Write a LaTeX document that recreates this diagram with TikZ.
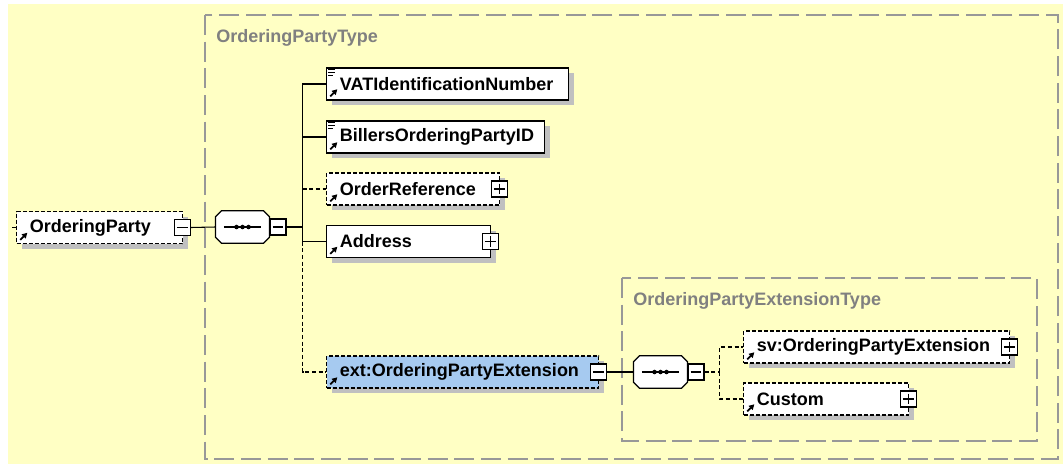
\documentclass[tikz,border=0pt]{standalone}
\usepackage{fontspec}
\setmainfont{Liberation Sans}
\usetikzlibrary{positioning}
\usetikzlibrary{shadows}
\usetikzlibrary{arrows.meta}
\usepackage{xcolor}

\definecolor{bgyellow}{RGB}{255,255,196}
\definecolor{shadowgray}{RGB}{192,192,192}
\definecolor{framegray}{RGB}{152,152,152}
\definecolor{extblue}{RGB}{166,202,240}
\definecolor{typegray}{RGB}{128,128,128}

\tikzset{
  elem/.style={draw=black, line width=0.9pt, fill=white, anchor=west,
    minimum height=24pt, inner xsep=0pt, inner ysep=0pt, align=left,
    font=\fontsize{13.5}{16}\selectfont\bfseries,
    drop shadow={shadow xshift=4pt, shadow yshift=-4pt, fill=shadowgray, opacity=1}},
  optelem/.style={elem, dash pattern=on 3pt off 1.5pt},
  pmbox/.style={draw=black, line width=0.8pt, fill=white, minimum size=12pt, inner sep=0pt},
  plusbox/.style={pmbox, path picture={
    \draw[line width=0.8pt] ([xshift=2pt]path picture bounding box.west) -- ([xshift=-2pt]path picture bounding box.east)
      ([yshift=-2pt]path picture bounding box.north) -- ([yshift=2pt]path picture bounding box.south);}},
  minusbox/.style={pmbox, path picture={
    \draw[line width=0.8pt] ([xshift=2pt]path picture bounding box.west) -- ([xshift=-2pt]path picture bounding box.east);}},
  seqbox/.style={rectangle, minimum width=40pt, minimum height=24pt, inner sep=0pt},
  octa/.style={draw=black, line width=0.9pt, fill=white},
  frame/.style={draw=framegray, line width=1.3pt, dash pattern=on 15pt off 5pt},
  typelbl/.style={anchor=west, inner sep=0pt, text=typegray, font=\fontsize{13.5}{16}\selectfont\bfseries},
  conn/.style={line width=0.8pt},
  optconn/.style={conn, dash pattern=on 3pt off 2pt},
  refarrow/.style={line width=1.4pt, -{Triangle[length=4pt,width=4.2pt]}},
}

\begin{document}
\begin{tikzpicture}[x=0.75pt, y=-0.75pt]

\useasboundingbox (0,0) rectangle (1063,464);
\fill[bgyellow] (8,4) rectangle (1063,464);

% type frames
\draw[frame] (205,15) rectangle (1058,459);
\draw[frame] (622,278) rectangle (1037,441);
\node[typelbl] (optype) at (216,38) {OrderingPartyType};
\node[typelbl] (opexttype) at (633,301) {OrderingPartyExtensionType};

% root element
\node[optelem, text width=124.5pt] (op) at (16,227.5) {\hspace*{10pt}OrderingParty};
\node[minusbox] (opm) at ([xshift=-0.75pt]op.east) {};
\draw[optconn] (op.west) -- ++(-6,0);

% sequences
\node[seqbox] (seq1) at (242.5,227) {};
\node[seqbox] (seq2) at (660.5,372) {};
\foreach \s in {seq1,seq2}{
  \begin{scope}[shift={(4pt,-4pt)}]
    \fill[shadowgray] ([xshift=4.5pt]\s.north west) -- ([xshift=-4.5pt]\s.north east) -- ([yshift=-4.5pt]\s.north east)
      -- ([yshift=4.5pt]\s.south east) -- ([xshift=-4.5pt]\s.south east) -- ([xshift=4.5pt]\s.south west)
      -- ([yshift=4.5pt]\s.south west) -- ([yshift=-4.5pt]\s.north west) -- cycle;
  \end{scope}
  \draw[octa] ([xshift=4.5pt]\s.north west) -- ([xshift=-4.5pt]\s.north east) -- ([yshift=-4.5pt]\s.north east)
    -- ([yshift=4.5pt]\s.south east) -- ([xshift=-4.5pt]\s.south east) -- ([xshift=4.5pt]\s.south west)
    -- ([yshift=4.5pt]\s.south west) -- ([yshift=-4.5pt]\s.north west) -- cycle;
  \draw[conn] ([xshift=-14pt]\s.center) -- ([xshift=14pt]\s.center);
  \foreach \d in {-4.5,0,4.5}
    \fill ([xshift=\d pt]\s.center) circle [radius=1.7pt];
}
\node[minusbox, anchor=west] (seq1m) at (seq1.east) {};
\node[minusbox, anchor=west] (seq2m) at (seq2.east) {};

% children
\node[elem, text width=181.5pt] (vat) at (326,84) {\hspace*{10pt}VATIdentificationNumber};
\node[elem, text width=163.5pt] (billers) at (326,137) {\hspace*{10pt}BillersOrderingPartyID};
\node[optelem, text width=129.75pt] (orderref) at (326,189) {\hspace*{10pt}OrderReference};
\node[plusbox] (orderrefp) at ([xshift=-0.75pt]orderref.east) {};
\node[elem, text width=123pt] (addr) at (326,241.5) {\hspace*{10pt}Address};
\node[plusbox] (addrp) at ([xshift=-0.75pt]addr.east) {};
\node[optelem, fill=extblue, text width=204pt] (ext) at (326,372) {\hspace*{10pt}ext:OrderingPartyExtension};
\node[minusbox] (extm) at ([xshift=-0.75pt]ext.east) {};

% extension children
\node[optelem, text width=199.5pt] (sv) at (743,347) {\hspace*{10pt}sv:OrderingPartyExtension};
\node[plusbox] (svp) at ([xshift=-0.75pt]sv.east) {};
\node[optelem, text width=123.75pt] (custom) at (743,399) {\hspace*{10pt}Custom};
\node[plusbox] (customp) at ([xshift=-0.75pt]custom.east) {};

% icons
\foreach \n in {op,vat,billers,orderref,addr,ext,sv,custom}
  \draw[refarrow] ([xshift=3.2pt,yshift=3.2pt]\n.south west) -- ([xshift=8.5pt,yshift=8.5pt]\n.south west);
\foreach \n in {vat,billers}{
  \draw[line width=0.9pt] ([xshift=1.5pt,yshift=-1.6pt]\n.north west) -- ++(7,0);
  \draw[line width=0.9pt] ([xshift=1.5pt,yshift=-3.8pt]\n.north west) -- ++(7,0);
  \draw[line width=0.9pt] ([xshift=1.5pt,yshift=-6pt]\n.north west) -- ++(5,0);
}

% connectors
\draw[conn] (opm.east) -- (seq1.west);
\draw[conn] (seq1m.east) -- ++(16,0) coordinate (bus1);
\draw[conn] (bus1) |- (vat.west);
\draw[conn] (bus1) |- (billers.west);
\draw[conn] (bus1) |- (addr.west);
\draw[optconn] (bus1 |- orderref.west) -- (orderref.west);
\draw[optconn] (bus1 |- addr.west) |- (ext.west);
\draw[conn] (extm.east) -- (seq2.west);
\draw[optconn] (seq2m.east) -- ++(15,0) coordinate (bus2);
\draw[optconn] (bus2) |- (sv.west);
\draw[optconn] (bus2) |- (custom.west);

\end{tikzpicture}
\end{document}
